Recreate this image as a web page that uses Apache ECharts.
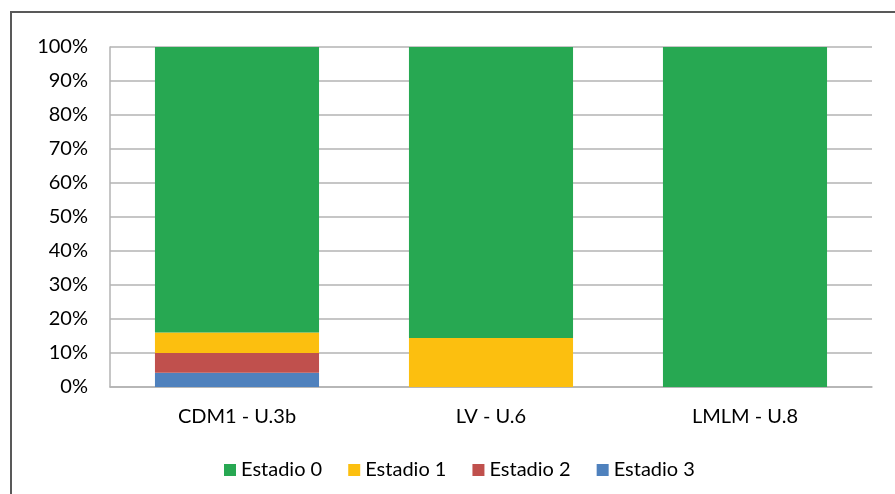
<!DOCTYPE html>
<html>
<head>
<meta charset="utf-8">
<script src="https://cdn.jsdelivr.net/npm/echarts@6/dist/echarts.min.js"></script>
<style>
html,body{margin:0;padding:0;background:#fff;}
#c{width:895px;height:494px;}
</style>
</head>
<body>
<div id="c"></div>
<script>
const categories = ["CDM1 - U.3b", "LV - U.6", "LMLM - U.8"];
const estadio3 = [4.2, 0, 0];
const estadio2 = [5.8, 0, 0];
const estadio1 = [6.0, 14.4, 0];
const estadio0 = [84.0, 85.6, 100];
const yTicks = [0, 10, 20, 30, 40, 50, 60, 70, 80, 90, 100];

const FONT = "Lato";
const chart = echarts.init(document.getElementById('c'), null, {renderer: 'canvas'});
const barW = '64.6%';
function s(name, data, color) {
  return {name, type: 'bar', stack: 'total', data, barWidth: barW,
    itemStyle: {color}, emphasis: {disabled: true}};
}
chart.setOption({
  animation: false,
  backgroundColor: '#fff',
  graphic: [{
    type: 'rect', shape: {x: 11, y: 12, width: 1000, height: 1000},
    style: {fill: 'none', stroke: '#595959', lineWidth: 2}, silent: true
  }],
  grid: {left: 110, right: 23, top: 47, bottom: 107, containLabel: false},
  legend: {
    data: ['Estadio 0', 'Estadio 1', 'Estadio 2', 'Estadio 3'],
    top: 460, left: 224, padding: 0,
    itemWidth: 12, itemHeight: 12, itemGap: 26,
    icon: 'rect',
    textStyle: {fontFamily: FONT, fontSize: 20, color: '#000'}
  },
  xAxis: {
    type: 'category', data: categories,
    axisLine: {show: true, lineStyle: {color: '#b3b3b3', width: 1.5}},
    axisTick: {show: false},
    axisLabel: {fontFamily: FONT, fontSize: 20, color: '#000', margin: 20}
  },
  yAxis: {
    type: 'value', min: 0, max: 100, interval: 10,
    axisLine: {show: true, lineStyle: {color: '#b3b3b3', width: 1.5}},
    axisTick: {show: false},
    splitLine: {lineStyle: {color: '#b3b3b3', width: 1.5}},
    axisLabel: {fontFamily: FONT, fontSize: 20, color: '#000', margin: 22,
      formatter: v => yTicks.includes(v) ? v + '%' : ''}
  },
  series: [
    s('Estadio 3', estadio3, '#4f81bd'),
    s('Estadio 2', estadio2, '#c0504d'),
    s('Estadio 1', estadio1, '#fcbf0f'),
    s('Estadio 0', estadio0, '#27a852')
  ]
});
</script>
</body>
</html>
